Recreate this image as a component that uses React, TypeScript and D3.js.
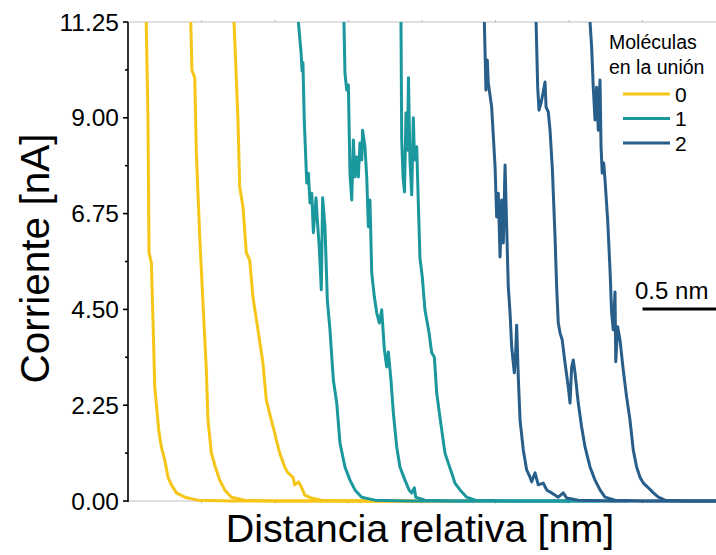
import React from "react";
import * as d3 from "d3";

// Distance (nm), current (nA) pairs
const yellow1: [number, number][] = [
  [0.118, 12.0], [0.124, 11.25], [0.136, 8.95], [0.143, 5.83], [0.159, 5.59], [0.170, 4.25],
  [0.182, 2.68], [0.209, 1.67], [0.227, 1.27], [0.250, 0.96], [0.272, 0.56], [0.295, 0.38],
  [0.329, 0.19], [0.386, 0.09], [0.476, 0.02], [0.7, 0.0], [2.0, 0.0],
];
const yellow2: [number, number][] = [
  [0.422, 12.0], [0.427, 11.25], [0.435, 10.12], [0.454, 9.94], [0.465, 8.17], [0.488, 6.2],
  [0.510, 4.65], [0.533, 3.08], [0.544, 1.9], [0.567, 1.13], [0.594, 0.8], [0.624, 0.49],
  [0.658, 0.26], [0.703, 0.09], [0.794, 0.02], [1.0, 0.0], [2.2, 0.0],
];
const yellow3: [number, number][] = [
  [0.716, 12.0], [0.721, 11.25], [0.730, 10.52], [0.748, 8.95], [0.760, 7.38], [0.782, 6.91],
  [0.805, 5.83], [0.828, 5.66], [0.850, 4.79], [0.884, 4.02], [0.918, 3.24], [0.941, 2.37],
  [0.975, 1.9], [0.998, 1.6], [1.009, 1.43], [1.032, 1.13], [1.066, 0.8], [1.088, 0.66],
  [1.122, 0.56], [1.134, 0.38], [1.161, 0.45], [1.179, 0.33], [1.202, 0.14], [1.247, 0.07],
  [1.315, 0.02], [1.5, 0.0], [2.4, 0.0],
];
const teal1: [number, number][] = [
  [1.155, 12.0], [1.159, 11.25], [1.178, 10.5], [1.184, 10.1], [1.190, 10.3], [1.199, 8.95],
  [1.216, 7.47], [1.227, 7.7], [1.238, 7.0], [1.250, 7.23], [1.261, 6.3], [1.279, 7.12],
  [1.288, 6.6], [1.301, 5.97], [1.315, 4.96], [1.324, 7.12], [1.340, 6.44], [1.356, 4.72],
  [1.374, 4.02], [1.397, 2.84], [1.420, 2.3], [1.442, 1.36], [1.476, 0.8], [1.510, 0.49],
  [1.544, 0.26], [1.590, 0.09], [1.680, 0.02], [1.9, 0.0], [3.0, 0.0],
];
const teal2: [number, number][] = [
  [1.466, 12.0], [1.469, 11.25], [1.476, 10.05], [1.488, 9.65], [1.499, 9.77], [1.510, 7.7],
  [1.522, 7.07], [1.533, 8.48], [1.544, 7.61], [1.556, 8.08], [1.567, 7.61], [1.578, 8.41],
  [1.590, 8.01], [1.596, 8.71], [1.612, 8.32], [1.624, 7.61], [1.635, 6.44], [1.646, 7.07],
  [1.658, 5.36], [1.676, 4.79], [1.692, 4.42], [1.710, 4.18], [1.726, 4.49], [1.744, 3.55],
  [1.760, 3.15], [1.771, 3.5], [1.789, 2.84], [1.805, 2.07], [1.828, 1.27], [1.850, 0.8],
  [1.884, 0.49], [1.912, 0.26], [1.930, 0.19], [1.948, 0.31], [1.957, 0.09], [2.020, 0.02],
  [2.2, 0.0], [3.2, 0.0],
];
const teal3: [number, number][] = [
  [1.855, 12.0], [1.857, 11.25], [1.862, 8.48], [1.871, 7.61], [1.881, 7.26], [1.891, 9.11],
  [1.901, 8.24], [1.908, 9.94], [1.918, 8.01], [1.930, 7.19], [1.941, 9.0], [1.949, 8.01],
  [1.964, 8.32], [1.975, 7.0], [1.986, 5.71], [2.002, 5.26], [2.020, 4.49], [2.048, 3.95],
  [2.066, 3.48], [2.084, 3.38], [2.100, 2.54], [2.122, 1.97], [2.156, 1.13], [2.179, 0.89],
  [2.202, 0.66], [2.224, 0.42], [2.259, 0.26], [2.304, 0.09], [2.361, 0.02], [2.6, 0.0],
  [3.4, 0.0],
];
const blue1: [number, number][] = [
  [2.420, 12.0], [2.424, 11.25], [2.429, 10.52], [2.435, 9.65], [2.444, 10.36], [2.451, 9.82],
  [2.474, 9.25], [2.497, 7.85], [2.508, 6.67], [2.519, 7.23], [2.531, 5.73], [2.542, 7.07],
  [2.553, 6.06], [2.565, 7.89], [2.576, 6.44], [2.587, 5.03], [2.599, 4.42], [2.610, 3.62],
  [2.628, 3.01], [2.637, 3.48], [2.644, 4.13], [2.655, 2.91], [2.667, 1.9], [2.689, 1.2],
  [2.712, 0.73], [2.735, 0.56], [2.746, 0.45], [2.769, 0.66], [2.791, 0.38], [2.825, 0.42],
  [2.848, 0.26], [2.882, 0.19], [2.927, 0.09], [2.961, 0.19], [2.984, 0.07], [3.063, 0.02],
  [3.3, 0.0], [4.0, 0.0],
];
const blue2: [number, number][] = [
  [2.773, 12.0], [2.776, 11.25], [2.787, 9.72], [2.796, 9.18], [2.810, 9.35], [2.825, 9.61],
  [2.837, 9.84], [2.844, 9.25], [2.859, 9.14], [2.871, 8.71], [2.887, 7.78], [2.905, 6.2],
  [2.916, 5.03], [2.927, 4.18], [2.939, 3.95], [2.954, 3.78], [2.973, 3.24], [2.995, 2.68],
  [3.007, 2.3], [3.018, 3.15], [3.029, 3.31], [3.041, 3.01], [3.063, 2.3], [3.086, 1.74],
  [3.109, 1.27], [3.143, 0.8], [3.177, 0.49], [3.211, 0.26], [3.245, 0.09], [3.313, 0.02],
  [3.5, 0.0], [4.0, 0.0],
];
const blue3: [number, number][] = [
  [3.140, 12.0], [3.143, 11.25], [3.154, 10.66], [3.165, 9.72], [3.177, 8.95], [3.188, 9.72],
  [3.199, 8.71], [3.211, 9.89], [3.218, 8.32], [3.226, 7.7], [3.236, 7.94], [3.245, 7.54],
  [3.263, 6.6], [3.279, 5.43], [3.290, 4.42], [3.301, 4.02], [3.313, 4.91], [3.318, 3.27],
  [3.331, 4.09], [3.347, 3.78], [3.369, 3.08], [3.392, 2.44], [3.415, 1.9], [3.437, 1.2],
  [3.460, 0.8], [3.483, 0.56], [3.506, 0.42], [3.540, 0.31], [3.574, 0.19], [3.608, 0.09],
  [3.653, 0.02], [3.8, 0.0], [4.1, 0.0],
];

const groupLabels = ["0", "1", "2"];
const groupColors = ["#F5C518", "#1B989D", "#285E8A"];
const groupCurves = [[yellow1, yellow2, yellow3], [teal1, teal2, teal3], [blue1, blue2, blue3]];
const yTicks = [0, 2.25, 4.5, 6.75, 9, 11.25];
const yMinorTicks = [1.125, 3.375, 5.625, 7.875, 10.125];
const xTicks = [0.5, 1, 1.5, 2, 2.5, 3, 3.5];
const legendTitle = ["Moléculas", "en la unión"];
const scaleBarLabel = "0.5 nm";
const scaleBarRange = [3.5, 4.0];
const xTitle = "Distancia relativa [nm]";
const yTitle = "Corriente [nA]";

export default function App() {
  const W = 716, H = 555;
  const left = 128, right = 716, top = 22, bottom = 501;
  const x = d3.scaleLinear().domain([0, 4]).range([left, right]);
  const y = d3.scaleLinear().domain([0, 11.25]).range([bottom, top]);
  const line = d3.line<[number, number]>().x((d) => x(d[0])).y((d) => y(d[1]));
  const font = "Arial, 'Liberation Sans', sans-serif";

  return (
    <svg width={W} height={H} style={{ position: "absolute", left: 0, top: 0 }} fontFamily={font}>
      <rect width={W} height={H} fill="#fff" />
      <defs>
        <clipPath id="plot">
          <rect x={left} y={top} width={right - left} height={bottom - top + 3} />
        </clipPath>
      </defs>
      {/* frame */}
      <line x1={left} x2={right} y1={top} y2={top} stroke="#d4d4d4" strokeWidth={1.5} />
      <line x1={left} x2={right} y1={bottom} y2={bottom} stroke="#d4d4d4" strokeWidth={1.5} />
      {xTicks.map((t) => (
        <g key={t}>
          <line x1={x(t)} x2={x(t)} y1={top} y2={top - 2} stroke="#bbb" strokeWidth={1} />
          <line x1={x(t)} x2={x(t)} y1={bottom} y2={bottom + 2.5} stroke="#bbb" strokeWidth={1} />
        </g>
      ))}
      {/* curves */}
      <g clipPath="url(#plot)">
        {groupCurves.map((curves, gi) =>
          curves.map((c, ci) => (
            <path key={`${gi}-${ci}`} d={line(c) || ""} fill="none" stroke={groupColors[gi]}
              strokeWidth={3} strokeLinejoin="round" strokeLinecap="round" />
          ))
        )}
      </g>
      {/* y axis */}
      <line x1={left} x2={left} y1={top} y2={bottom + 1} stroke="#000" strokeWidth={1.6} />
      {yTicks.map((t) => (
        <g key={t}>
          <line x1={left - 5} x2={left} y1={y(t)} y2={y(t)} stroke="#000" strokeWidth={1.6} />
          <text x={left - 9} y={y(t)} dy="0.35em" textAnchor="end" fontSize={24.5} fill="#000">
            {t.toFixed(2)}
          </text>
        </g>
      ))}
      {yMinorTicks.map((t) => (
        <line key={t} x1={left - 3} x2={left} y1={y(t)} y2={y(t)} stroke="#000" strokeWidth={1.6} />
      ))}
      {/* titles */}
      <text x={(left + right) / 2 - 2} y={542} textAnchor="middle" fontSize={39.5} fill="#000">{xTitle}</text>
      <text transform={`translate(49, ${(top + bottom) / 2 - 3}) rotate(-90)`} textAnchor="middle"
        fontSize={40.5} fill="#000">{yTitle}</text>
      {/* legend */}
      {legendTitle.map((t, i) => (
        <text key={t} x={609} y={49 + i * 25} fontSize={19.5} fill="#000">{t}</text>
      ))}
      {groupLabels.map((g, i) => (
        <g key={g}>
          <line x1={623} x2={670} y1={94 + i * 24.5} y2={94 + i * 24.5} stroke={groupColors[i]} strokeWidth={3} />
          <text x={675} y={94 + i * 24.5} dy="0.36em" fontSize={21} fill="#000">{g}</text>
        </g>
      ))}
      {/* scale bar */}
      <text x={635} y={299} fontSize={24} fill="#000">{scaleBarLabel}</text>
      <line x1={x(scaleBarRange[0])} x2={x(scaleBarRange[1])} y1={309} y2={309} stroke="#000" strokeWidth={3} />
    </svg>
  );
}
